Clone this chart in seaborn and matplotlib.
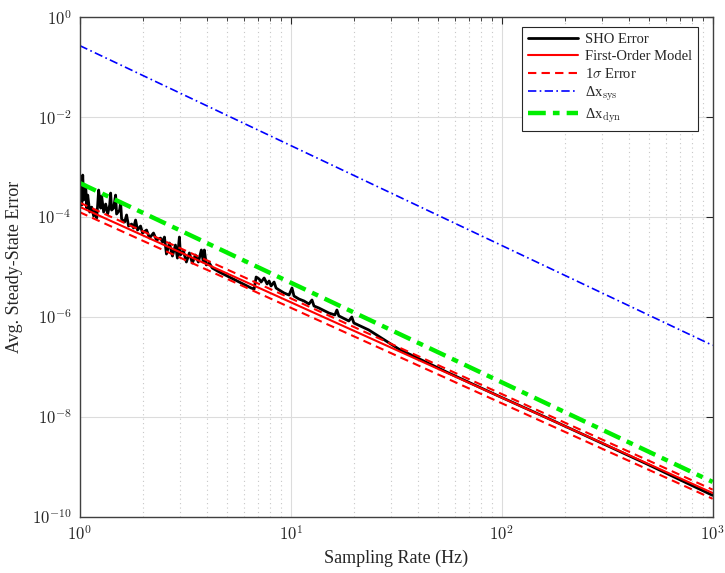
import numpy as np
import matplotlib
matplotlib.use("Agg")
import matplotlib.pyplot as plt
import seaborn as sns
from matplotlib.ticker import LogLocator, FixedLocator, NullFormatter

# ── Data ──
# SHO error (noisy simulated curve)
sho_freq = [1.000, 1.011, 1.022, 1.033, 1.044, 1.067, 1.079, 1.091, 1.115, 1.139,
            1.164, 1.190, 1.203, 1.216, 1.229, 1.256, 1.270, 1.298, 1.327, 1.356,
            1.386, 1.401, 1.416, 1.447, 1.479, 1.495, 1.545, 1.562, 1.579, 1.632,
            1.667, 1.704, 1.761, 1.799, 1.839, 1.879, 1.942, 1.984, 2.073, 2.141,
            2.236, 2.311, 2.414, 2.467, 2.520, 2.576, 2.661, 2.750, 2.841, 2.903,
            2.967, 3.000, 3.099, 3.202, 3.308, 3.418, 3.531, 3.649, 3.770, 3.853,
            3.895, 3.981, 4.113, 4.249, 4.585, 5.111, 5.699, 6.494, 6.709, 6.857,
            7.085, 7.241, 7.482, 7.727, 7.897, 8.070, 8.339, 8.523, 8.805, 9.297,
            9.818, 10.14, 10.36, 10.94, 11.56, 12.20, 12.61, 12.89, 13.61, 15.17,
            16.19, 16.55, 16.91, 18.86, 19.48, 19.91, 23.44, 32.48, 55.95, 96.36,
            166.0, 286.0, 492.6, 1000.0]
sho_err = [2.19e-4, 4.17e-4, 1.74e-4, 6.92e-4, 2.19e-4, 4.37e-4, 1.51e-4, 2.75e-4, 1.26e-4, 1.58e-4,
           1.05e-4, 1.38e-4, 9.55e-5, 1.74e-4, 3.47e-4, 1.51e-4, 2.63e-4, 1.26e-4, 1.82e-4, 1.15e-4,
           1.74e-4, 3.02e-4, 1.38e-4, 1.51e-4, 2.75e-4, 1.15e-4, 1.38e-4, 2.00e-4, 9.12e-5, 7.94e-5,
           1.10e-4, 6.61e-5, 7.24e-5, 6.03e-5, 8.71e-5, 5.50e-5, 6.61e-5, 4.79e-5, 5.50e-5, 3.80e-5,
           4.79e-5, 3.47e-5, 3.80e-5, 3.16e-5, 3.98e-5, 1.82e-5, 3.02e-5, 1.66e-5, 2.75e-5, 1.51e-5,
           3.98e-5, 1.74e-5, 2.09e-5, 1.26e-5, 1.91e-5, 1.20e-5, 1.74e-5, 1.26e-5, 2.19e-5, 1.26e-5,
           2.19e-5, 1.10e-5, 1.20e-5, 9.55e-6, 7.94e-6, 6.31e-6, 5.01e-6, 3.80e-6, 3.63e-6, 6.31e-6,
           5.75e-6, 5.01e-6, 6.03e-6, 4.57e-6, 5.25e-6, 4.17e-6, 5.01e-6, 3.80e-6, 3.47e-6, 3.02e-6,
           2.75e-6, 3.80e-6, 2.63e-6, 2.29e-6, 2.09e-6, 1.82e-6, 2.19e-6, 1.66e-6, 1.51e-6, 1.20e-6,
           1.10e-6, 1.38e-6, 1.05e-6, 8.32e-7, 1.00e-6, 7.59e-7, 5.50e-7, 2.29e-7, 7.59e-8, 2.63e-8,
           9.33e-9, 3.24e-9, 1.12e-9, 2.69e-10]

# model curves (straight lines on log-log axes, endpoints at 1 Hz and 1 kHz)
model_freq = [1.0, 1000.0]
first_order = [1.6e-4, 3.0e-10]
sigma_upper = [1.94e-4, 3.5e-10]
sigma_lower = [1.25e-4, 2.3e-10]
dx_sys = [0.27, 2.7e-7]
dx_dyn = [4.8e-4, 5.0e-10]

x_ticks = [1, 10, 100, 1000]
x_tick_labels = ["$10^{0}$", "$10^{1}$", "$10^{2}$", "$10^{3}$"]
y_ticks = [1e-10, 1e-8, 1e-6, 1e-4, 1e-2, 1]
y_tick_labels = ["$10^{-10}$", "$10^{-8}$", "$10^{-6}$", "$10^{-4}$", "$10^{-2}$", "$10^{0}$"]

# ── Style ──
sns.set_style("white")
plt.rcParams["font.family"] = ["Liberation Serif", "DejaVu Serif"]
plt.rcParams["mathtext.fontset"] = "cm"

fig = plt.figure(figsize=(7.25, 5.73), dpi=100)
ax = fig.add_axes([0.110, 0.098, 0.873, 0.872])

sns.lineplot(x=sho_freq, y=sho_err, ax=ax, color="black", lw=2.0,
             sort=False, estimator=None, label="SHO Error")
sns.lineplot(x=model_freq, y=first_order, ax=ax, color="#ff0000", lw=1.5,
             estimator=None, label="First-Order Model")
sns.lineplot(x=model_freq, y=sigma_upper, ax=ax, color="#ff0000", lw=1.5,
             linestyle=(0, (4, 2.5)), estimator=None, label="1$\\sigma$ Error")
sns.lineplot(x=model_freq, y=sigma_lower, ax=ax, color="#ff0000", lw=1.5,
             linestyle=(0, (4, 2.5)), estimator=None)
sns.lineplot(x=model_freq, y=dx_sys, ax=ax, color="#0000ff", lw=1.2,
             linestyle=(0, (5, 2, 1, 2)), estimator=None,
             label="Δx$_{\\mathrm{sys}}$")
sns.lineplot(x=model_freq, y=dx_dyn, ax=ax, color="#00ee00", lw=3.2,
             linestyle=(0, (4, 1.6, 1.5, 1.6)), estimator=None,
             label="Δx$_{\\mathrm{dyn}}$")

ax.set_xscale("log")
ax.set_yscale("log")
ax.set_xlim(1, 1000)
ax.set_ylim(1e-10, 1)

ax.xaxis.set_major_locator(FixedLocator(x_ticks))
ax.set_xticklabels(x_tick_labels)
ax.xaxis.set_minor_locator(LogLocator(base=10, subs=np.arange(2, 10)))
ax.xaxis.set_minor_formatter(NullFormatter())
ax.yaxis.set_major_locator(FixedLocator(y_ticks))
ax.set_yticklabels(y_tick_labels)
ax.yaxis.set_minor_locator(FixedLocator([]))

ax.grid(which="major", axis="both", color="#dcdcdc", lw=0.8, ls="-")
ax.grid(which="minor", axis="x", color="#c8c8c8", lw=0.8, ls=(0, (1, 3)))
ax.set_axisbelow(True)

ax.tick_params(which="both", direction="in", top=True, right=True,
               labelsize=12, colors="#262626", pad=6)
ax.tick_params(which="major", length=5, width=0.8)
ax.tick_params(which="minor", length=3, width=0.6)
for sp in ax.spines.values():
    sp.set_color("#404040")
    sp.set_linewidth(1.0)

ax.set_xlabel("Sampling Rate (Hz)", fontsize=13, color="#262626", labelpad=4)
ax.set_ylabel("Avg. Steady-State Error", fontsize=13, color="#262626", labelpad=6)

leg = ax.legend(loc="upper right", bbox_to_anchor=(0.977, 0.98), borderaxespad=0,
                fontsize=10.5, frameon=True, fancybox=False, framealpha=1,
                edgecolor="#262626", handlelength=3.4, borderpad=0.4,
                labelspacing=0.25, handletextpad=0.5)
leg.get_frame().set_linewidth(0.8)

plt.savefig("out.png", dpi=100)
